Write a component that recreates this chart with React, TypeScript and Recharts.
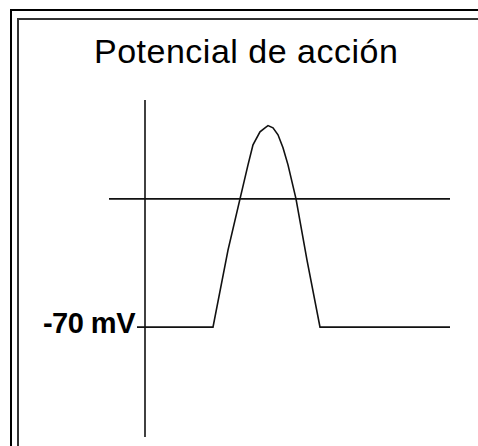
import React from "react";
import { LineChart, Line, XAxis, YAxis, ReferenceLine, LabelList } from "recharts";

// Membrane potential trace: time (ms) against voltage (mV)
const timeMs = [-0.4, 3.4, 4.15, 4.75, 5.15, 5.4, 5.75, 6.0, 6.15, 6.4, 6.65, 6.9, 7.15, 7.35, 7.55, 8.1, 8.75, 15.25];
const voltageMv = [-70, -70, -28, 0, 18.6, 29.5, 36.6, 38.8, 40, 38.8, 35, 27.9, 18.6, 9.3, 0, -33.4, -70, -70];

const restingPotential = -70;
const thresholdLine = 0;
const timeDomain: [number, number] = [-1.8, 15.25];
const voltageDomain: [number, number] = [-130, 54];
const title = "Potencial de acción";

const data = timeMs.map((t, i) => ({ t, v: voltageMv[i] }));

const W = 478;
const H = 446;
const ink = "#111";

const RestLabel = (props: any) => {
  const { x, y, index } = props;
  if (index !== 0) return null;
  return (
    <text
      x={x - 2}
      y={y + 6}
      textAnchor="end"
      fontFamily="'Liberation Sans', Arial, sans-serif"
      fontWeight="bold"
      fontSize={29}
      fill="#000"
      letterSpacing={-0.5}
    >
      {`${restingPotential} mV`}
    </text>
  );
};

export default function App() {
  return (
    <div style={{ position: "absolute", left: 0, top: 0, width: W, height: H, background: "#fff", overflow: "hidden" }}>
      <svg width={W} height={H} style={{ position: "absolute", left: 0, top: 0 }}>
        {/* double frame: only its left and top edges fall inside the view */}
        <path d={`M11 ${H + 10} V10 H${W + 10}`} fill="none" stroke="#000" strokeWidth={2} />
        <path d={`M18 ${H + 10} V19 H${W + 10}`} fill="none" stroke="#333" strokeWidth={2} />
        <text
          x={94}
          y={63}
          fontFamily="'Liberation Sans', Arial, sans-serif"
          fontSize={34}
          letterSpacing={0.5}
          fill="#000"
        >
          {title}
        </text>
      </svg>
      <div style={{ position: "absolute", left: 0, top: 0 }}>
        <LineChart width={W} height={H} data={data} margin={{ top: 100, right: 28, bottom: 9, left: 109 }}>
          <XAxis dataKey="t" type="number" domain={timeDomain} allowDataOverflow hide />
          <YAxis type="number" domain={voltageDomain} allowDataOverflow hide width={0} />
          <ReferenceLine x={0} stroke={ink} strokeWidth={1.6} />
          <ReferenceLine y={thresholdLine} stroke={ink} strokeWidth={1.6} />
          <Line
            dataKey="v"
            type="linear"
            stroke={ink}
            strokeWidth={1.6}
            dot={false}
            isAnimationActive={false}
          >
            <LabelList dataKey="v" content={RestLabel} />
          </Line>
        </LineChart>
      </div>
    </div>
  );
}
